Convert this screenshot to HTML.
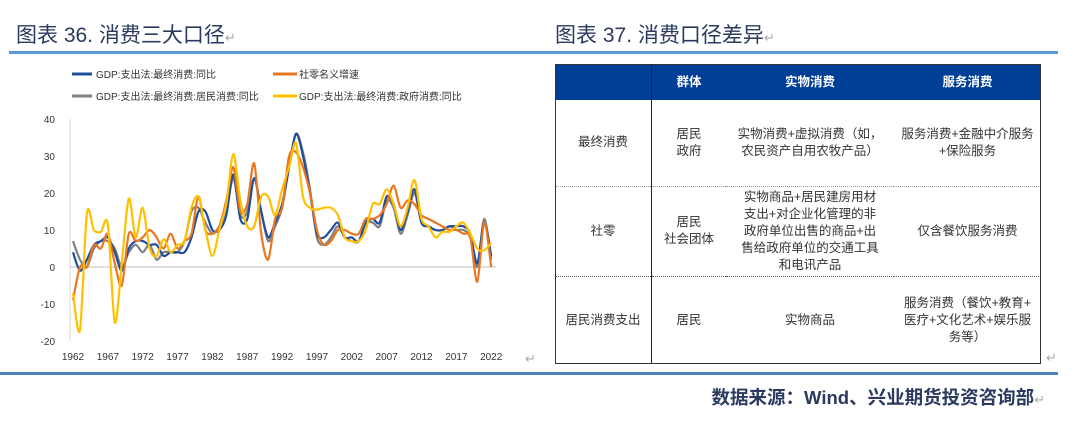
<!DOCTYPE html>
<html><head><meta charset="utf-8"><style>
body{margin:0;width:1080px;height:431px;background:#fff;position:relative;overflow:hidden;font-family:"Liberation Sans","Noto Sans CJK SC",sans-serif}
.t{position:absolute;top:19px;font-size:21px;color:#2b3a5e;white-space:nowrap}
.ret{color:#aaa;font-size:13px}
.ab{position:absolute}
table{position:absolute;left:555px;top:64px;width:486px;height:300px;border-collapse:collapse;font-size:12.5px;color:#333;text-align:center;line-height:17px}
td,th{padding:0 2px}
th{background:#003f98;color:#fff;font-weight:bold;height:36px}
</style></head><body>
<div class="t" style="left:16px">图表 36. 消费三大口径<span class="ret">↵</span></div>
<div class="t" style="left:555px">图表 37. 消费口径差异<span class="ret">↵</span></div>
<div class="ab" style="left:9px;top:51px;width:1049px;height:3px;background:#5b9bd5"></div>
<div class="ab" style="left:0;top:372px;width:1058px;height:3px;background:#4f81bd"></div>
<div class="ab" style="right:35px;top:384px;font-size:18.5px;font-weight:bold;color:#2b3a5e">数据来源：Wind、兴业期货投资咨询部<span class="ret" style="font-weight:normal">↵</span></div>
<div class="ab ret" style="left:525px;top:351px">↵</div>
<div class="ab ret" style="left:1046px;top:350px">↵</div>
<svg class="ab" style="left:0;top:0" width="540" height="370" id="ch">
<g font-size="10" fill="#333" font-family="Liberation Sans,Noto Sans CJK SC,sans-serif">
<line x1="72" y1="74" x2="92" y2="74" stroke="#1f4e9c" stroke-width="3"/><text x="96" y="78">GDP:支出法:最终消费:同比</text>
<line x1="273" y1="74" x2="297" y2="74" stroke="#e87722" stroke-width="3"/><text x="299" y="78">社零名义增速</text>
<line x1="72" y1="96" x2="92" y2="96" stroke="#808080" stroke-width="3"/><text x="96" y="100">GDP:支出法:最终消费:居民消费:同比</text>
<line x1="273" y1="96" x2="297" y2="96" stroke="#ffc000" stroke-width="3"/><text x="299" y="100">GDP:支出法:最终消费:政府消费:同比</text>
<g text-anchor="end"><text x="55" y="123">40</text><text x="55" y="160">30</text><text x="55" y="197">20</text><text x="55" y="234">10</text><text x="55" y="271">0</text><text x="55" y="308">-10</text><text x="55" y="345">-20</text></g>
<g text-anchor="middle" id="xl"></g>
</g>
<line x1="70" y1="119" x2="70" y2="341" stroke="#d9d9d9"/>
<line x1="70" y1="267" x2="496" y2="267" stroke="#bfbfbf"/>
<g id="ln" fill="none" stroke-width="2.2" stroke-linejoin="round"></g>
</svg>
<table>
<tr><th style="width:92px"></th><th style="width:70px;border-left:1px solid #222">群体</th><th style="width:164px">实物消费</th><th>服务消费</th></tr>
<tr style="height:86px;border-bottom:1px dotted #999"><td>最终消费</td><td style="border-left:1px solid #222">居民<br>政府</td><td>实物消费+虚拟消费（如，<br>农民资产自用农牧产品）</td><td>服务消费+金融中介服务<br>+保险服务</td></tr>
<tr style="height:90px;border-bottom:1px dotted #555"><td>社零</td><td style="border-left:1px solid #222">居民<br>社会团体</td><td>实物商品+居民建房用材<br>支出+对企业化管理的非<br>政府单位出售的商品+出<br>售给政府单位的交通工具<br>和电讯产品</td><td>仅含餐饮服务消费</td></tr>
<tr><td>居民消费支出</td><td style="border-left:1px solid #222">居民</td><td>实物商品</td><td>服务消费（餐饮+教育+<br>医疗+文化艺术+娱乐服<br>务等）</td></tr>
</table>
<div class="ab" style="left:555px;top:64px;width:484px;height:298px;border:1px solid #333"></div>
<script>
var S={
"#808080":[7,2,0,5,7,7,5,0,4,6,4,6,2,4,4,4,7,15,16,12,9,11,15,24,14,15,24,15,7,11,16,27,36,31,21,8,6,8,11,8,7,7,12,12,11,18,16,9,14,20,12,11,10,10,11,10,10,8,0,13,2],
"#1f4e9c":[4,-1,2,6,7,8,4,-1,5,7,7,6,6,3,4,4,4,8,15,15,10,10,14,25,13,13,24,15,8,12,17,27,36,30,20,9,8,10,12,8,8,7,12,13,12,19,17,10,15,21,12,11,10,10,11,11,11,9,1,12,3],
"#e87722":[-9,0,0,6,5,9,1,-5,9,7,8,10,8,5,9,5,7,9,19,10,9,11,18,27,15,17,28,9,2,13,16,30,31,27,20,10,6,7,10,10,9,9,13,13,14,17,22,16,18,17,14,13,12,11,10,10,9,8,-4,12,0],
"#ffc000":[-7,-17,14.5,10,9.5,11.5,-15,1,18.5,8,16,5,3,7.5,4,6,7,16,19,10,3,10,17,30.5,18,11,11,19,19,14,21,27,33.5,19,16,15.5,16,16,14,8,7,7,10,17,17,21,17,11,16,23.5,13,11,8,9.5,9.5,11,12,9,5,4.5,6.5]};
var g=document.getElementById('ln'),h='';
for(var c in S){var P=S[c].map(function(v,i){return [73+i*6.97,267-v*3.7]});
var d='M'+P[0][0].toFixed(1)+','+P[0][1].toFixed(1);
for(var i=0;i<P.length-1;i++){var p0=P[i-1]||P[i],p1=P[i],p2=P[i+1],p3=P[i+2]||p2;
var t=0.15;d+=' C'+(p1[0]+(p2[0]-p0[0])*t).toFixed(1)+','+(p1[1]+(p2[1]-p0[1])*t).toFixed(1)+' '+(p2[0]-(p3[0]-p1[0])*t).toFixed(1)+','+(p2[1]-(p3[1]-p1[1])*t).toFixed(1)+' '+p2[0].toFixed(1)+','+p2[1].toFixed(1);}
h+='<path stroke="'+c+'" d="'+d+'"/>';}
g.innerHTML=h;
var x='';for(var y=1962;y<=2022;y+=5)x+='<text x="'+(73+(y-1962)*6.97)+'" y="360">'+y+'</text>';
document.getElementById('xl').innerHTML=x;
</script>
</body></html>
